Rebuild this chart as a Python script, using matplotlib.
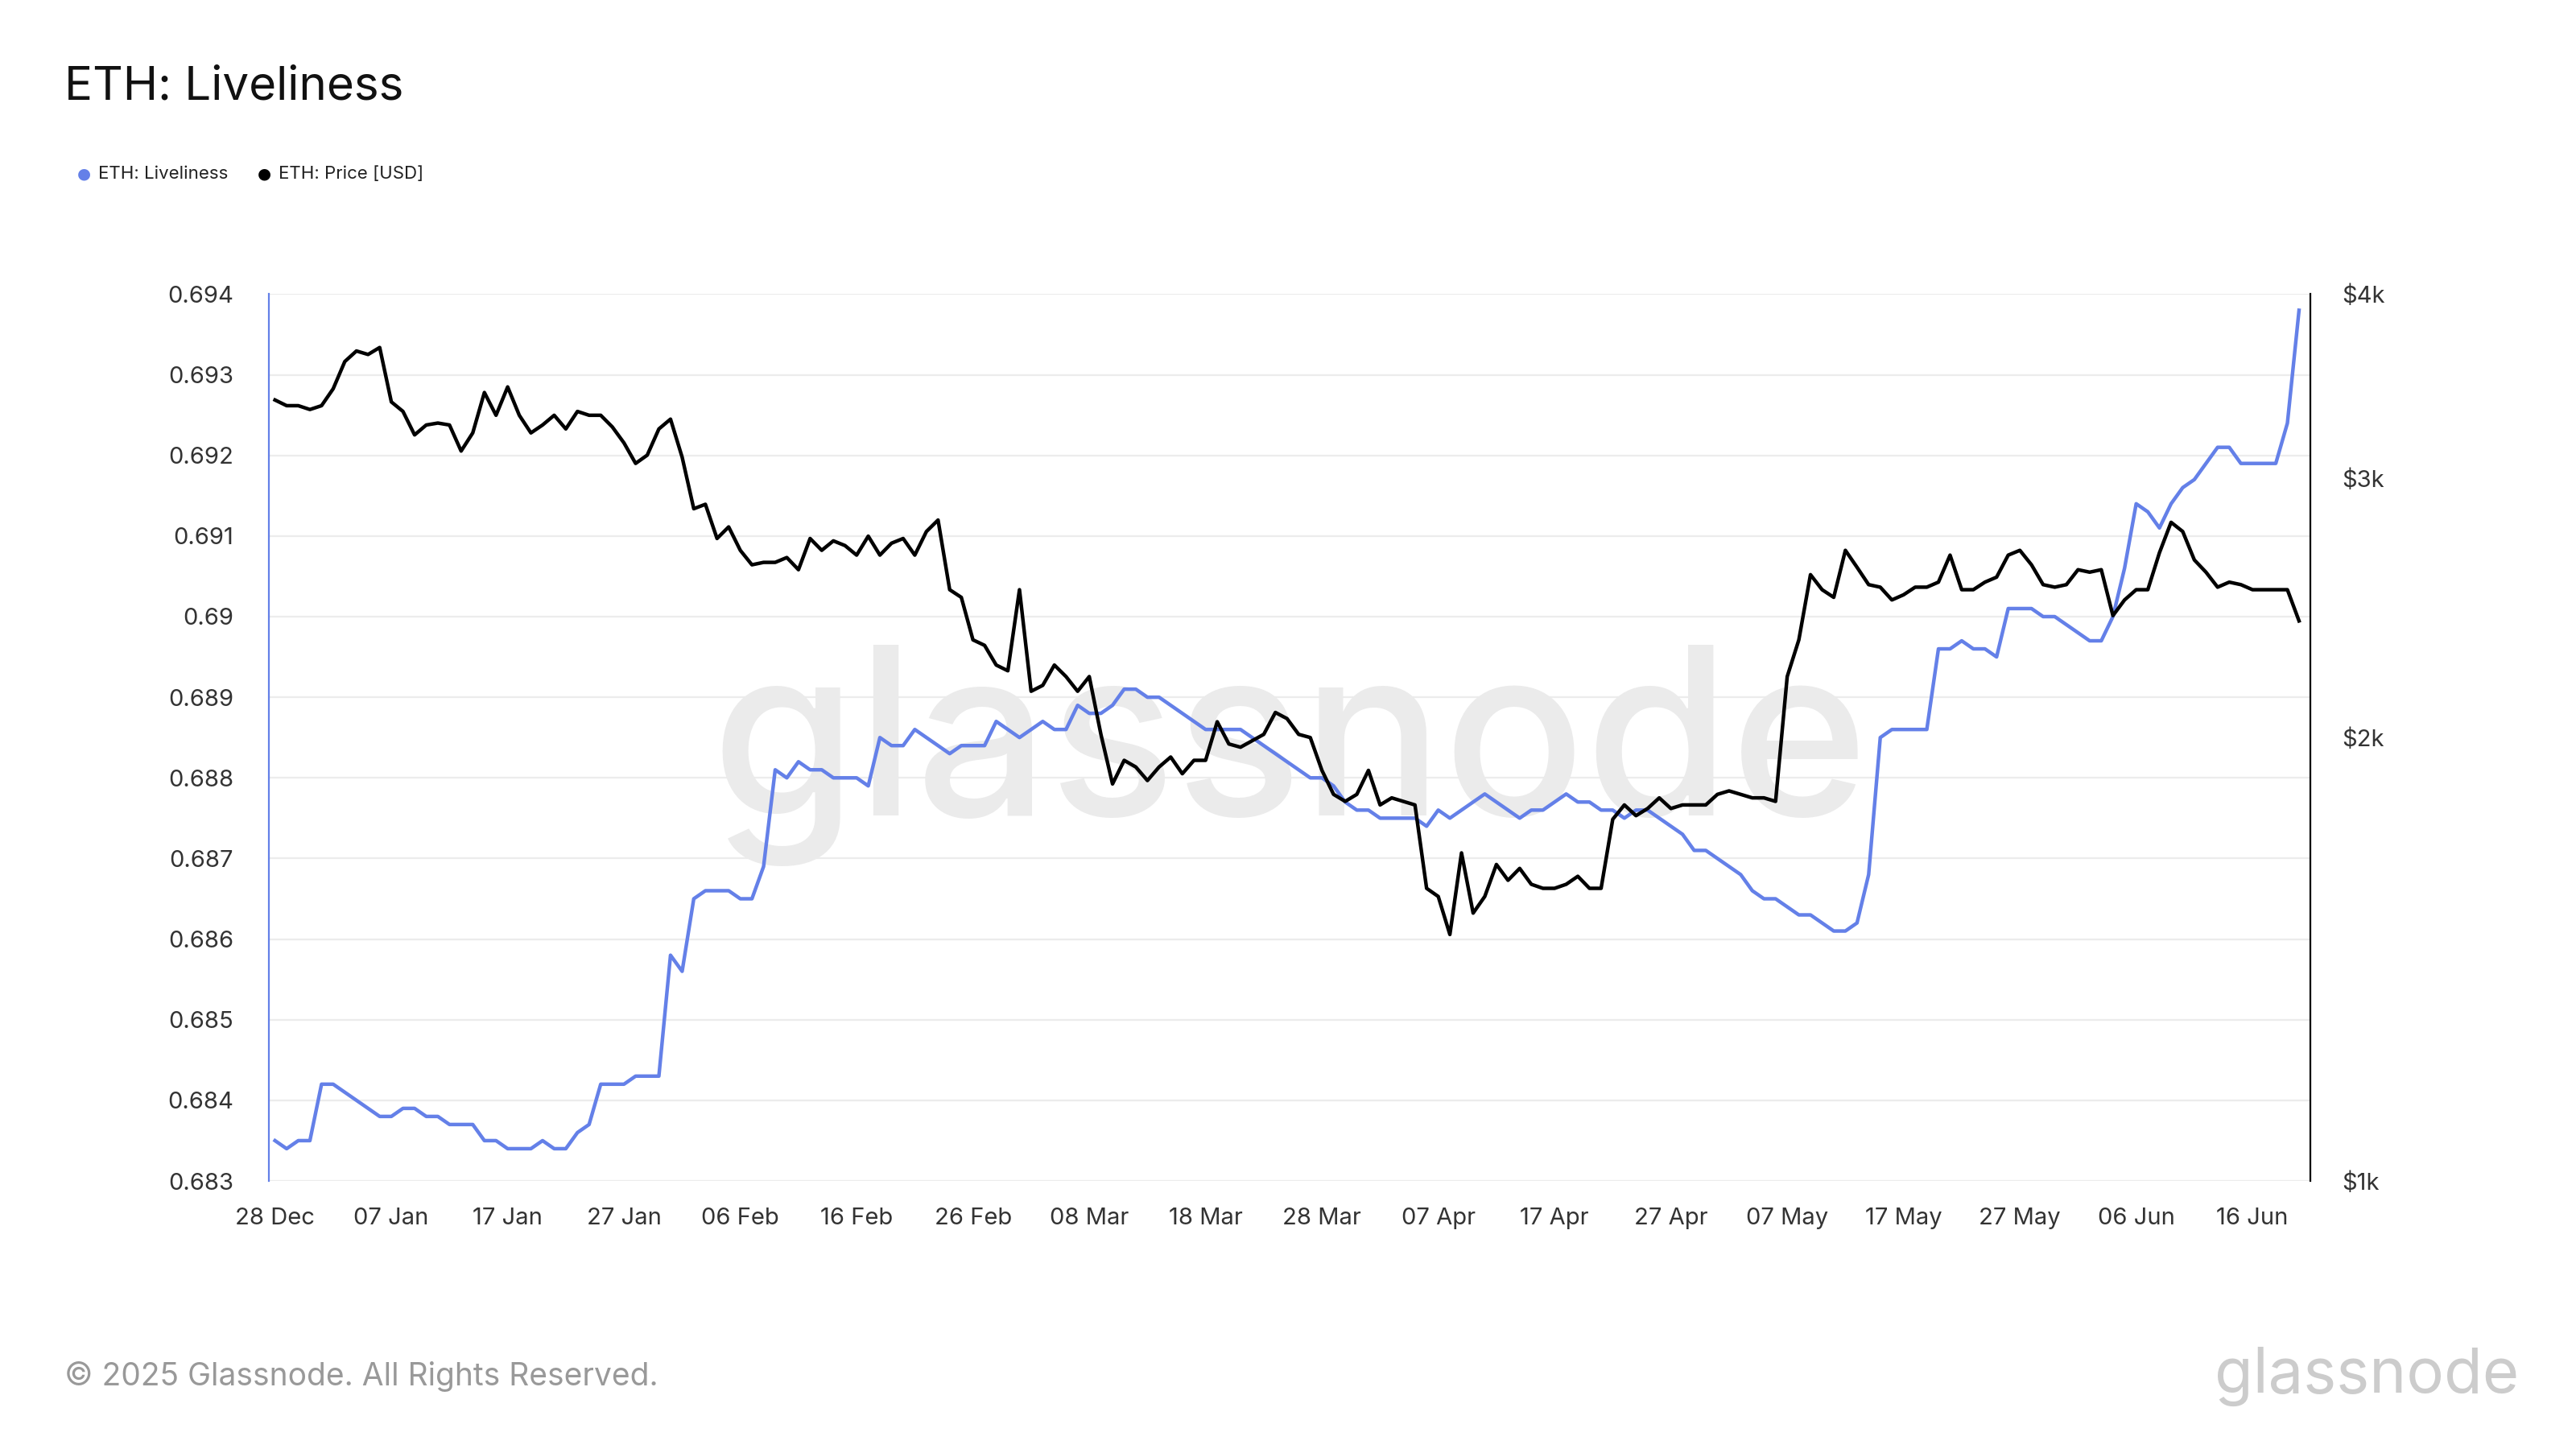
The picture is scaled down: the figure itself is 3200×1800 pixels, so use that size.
import matplotlib
matplotlib.use("Agg")
import matplotlib.pyplot as plt
import matplotlib.ticker as mticker
import matplotlib.dates as mdates
import pandas as pd

plt.rcParams["font.family"] = ["Inter", "DejaVu Sans"]

# ---- data (daily, starting 28 Dec 2024) ----
liveliness = [
    0.6835, 0.6834, 0.6835, 0.6835,                                    # Dec 28-31
    0.6842, 0.6842, 0.6841, 0.6840, 0.6839, 0.6838, 0.6838, 0.6839, 0.6839, 0.6838,
    0.6838, 0.6837, 0.6837, 0.6837, 0.6835, 0.6835, 0.6834, 0.6834, 0.6834, 0.6835,
    0.6834, 0.6834, 0.6836, 0.6837, 0.6842, 0.6842, 0.6842, 0.6843, 0.6843, 0.6843,
    0.6858,                                                            # Jan
    0.6856, 0.6865, 0.6866, 0.6866, 0.6866, 0.6865, 0.6865, 0.6869, 0.6881, 0.6880,
    0.6882, 0.6881, 0.6881, 0.6880, 0.6880, 0.6880, 0.6879, 0.6885, 0.6884, 0.6884,
    0.6886, 0.6885, 0.6884, 0.6883, 0.6884, 0.6884, 0.6884, 0.6887,    # Feb
    0.6886, 0.6885, 0.6886, 0.6887, 0.6886, 0.6886, 0.6889, 0.6888, 0.6888, 0.6889,
    0.6891, 0.6891, 0.6890, 0.6890, 0.6889, 0.6888, 0.6887, 0.6886, 0.6886, 0.6886,
    0.6886, 0.6885, 0.6884, 0.6883, 0.6882, 0.6881, 0.6880, 0.6880, 0.6879, 0.6877,
    0.6876,                                                            # Mar
    0.6876, 0.6875, 0.6875, 0.6875, 0.6875, 0.6874, 0.6876, 0.6875, 0.6876, 0.6877,
    0.6878, 0.6877, 0.6876, 0.6875, 0.6876, 0.6876, 0.6877, 0.6878, 0.6877, 0.6877,
    0.6876, 0.6876, 0.6875, 0.6876, 0.6876, 0.6875, 0.6874, 0.6873,
    0.6871, 0.6871,                                                    # Apr
    0.6870, 0.6869, 0.6868, 0.6866, 0.6865, 0.6865, 0.6864, 0.6863, 0.6863, 0.6862,
    0.6861, 0.6861, 0.6862, 0.6868, 0.6885, 0.6886, 0.6886, 0.6886, 0.6886, 0.6896,
    0.6896, 0.6897, 0.6896, 0.6896, 0.6895, 0.6901, 0.6901, 0.6901, 0.6900, 0.6900,
    0.6899,                                                            # May
    0.6898, 0.6897, 0.6897, 0.6900, 0.6906, 0.6914, 0.6913, 0.6911, 0.6914, 0.6916,
    0.6917, 0.6919, 0.6921, 0.6921, 0.6919, 0.6919, 0.6919, 0.6919, 0.6924, 0.6938,  # Jun 1-20
]

price = [
    3390, 3360, 3360, 3340,                                            # Dec 28-31
    3360, 3450, 3600, 3660, 3640, 3680, 3380, 3330, 3210, 3260,
    3270, 3260, 3130, 3220, 3430, 3310, 3460, 3310, 3220, 3260,
    3310, 3240, 3330, 3310, 3310, 3250, 3170, 3070, 3110, 3240,
    3290,                                                              # Jan
    3100, 2860, 2880, 2730, 2780, 2680, 2620, 2630, 2630, 2650,
    2600, 2730, 2680, 2720, 2700, 2660, 2740, 2660, 2710, 2730,
    2660, 2760, 2810, 2520, 2490, 2330, 2310, 2240,                    # Feb
    2220, 2520, 2150, 2170, 2240, 2200, 2150, 2200, 2010, 1860,
    1930, 1910, 1870, 1910, 1940, 1890, 1930, 1930, 2050, 1980,
    1970, 1990, 2010, 2080, 2060, 2010, 2000, 1900, 1830, 1810,
    1830,                                                              # Mar
    1900, 1800, 1820, 1810, 1800, 1580, 1560, 1470, 1670, 1520,
    1560, 1640, 1600, 1630, 1590, 1580, 1580, 1590, 1610, 1580,
    1580, 1760, 1800, 1770, 1790, 1820, 1790, 1800, 1800, 1800,        # Apr
    1830, 1840, 1830, 1820, 1820, 1810, 2200, 2330, 2580, 2520,
    2490, 2680, 2610, 2540, 2530, 2480, 2500, 2530, 2530, 2550,
    2660, 2520, 2520, 2550, 2570, 2660, 2680, 2620, 2540, 2530,
    2540,                                                              # May
    2600, 2590, 2600, 2420, 2480, 2520, 2520, 2670, 2800, 2760,
    2640, 2590, 2530, 2550, 2540, 2520, 2520, 2520, 2520, 2400,        # Jun 1-20
]

live_dates = pd.date_range("2024-12-28", periods=len(liveliness), freq="D")
price_dates = pd.date_range("2024-12-28", periods=len(price), freq="D")

BLUE = "#6480e8"

fig = plt.figure(figsize=(16, 9), dpi=200)
ax = fig.add_axes([0.1045, 0.185, 0.7925, 0.612])
ax2 = ax.twinx()

# watermark behind the lines
ax.text(0.5, 0.48, "glassnode", transform=ax.transAxes, fontsize=105,
        color="#ebebeb", ha="center", va="center", fontweight="medium", zorder=1)

ax.plot(live_dates, liveliness, color=BLUE, lw=1.6, zorder=3)
ax2.plot(price_dates, price, color="black", lw=1.6, zorder=4)

# left axis
ax.set_ylim(0.683, 0.694)
ax.yaxis.set_major_locator(mticker.MultipleLocator(0.001))
ax.yaxis.set_major_formatter(mticker.FuncFormatter(lambda v, _: f"{v:.3f}".rstrip("0")))
ax.grid(axis="y", color="#ececec", lw=0.8)
ax.set_axisbelow(True)

# right axis, log scale
ax2.set_yscale("log")
ax2.set_ylim(1000, 4000)
ax2.yaxis.set_major_locator(mticker.FixedLocator([1000, 2000, 3000, 4000]))
ax2.yaxis.set_minor_locator(mticker.NullLocator())
ax2.yaxis.set_major_formatter(mticker.FuncFormatter(lambda v, _: f"${v/1000:.0f}k"))

ax.set_xlim(pd.Timestamp("2024-12-27 12:00"), pd.Timestamp("2025-06-21"))
ticks = pd.date_range("2024-12-28", "2025-06-16", freq="10D")
ax.set_xticks(ticks)
ax.xaxis.set_major_formatter(mdates.DateFormatter("%d %b"))

for a in (ax, ax2):
    a.tick_params(length=0, labelsize=10.5, colors="#333333", pad=8)
    for s in ("top", "bottom"):
        a.spines[s].set_visible(False)
ax.spines["right"].set_visible(False)
ax.spines["left"].set_color(BLUE)
ax2.spines["left"].set_visible(False)
ax2.spines["right"].set_color("black")
ax2.tick_params(axis="y", pad=14)
ax.tick_params(axis="y", pad=16)
ax.tick_params(axis="x", pad=12)

fig.text(0.025, 0.94, "ETH: Liveliness", fontsize=21, va="center", color="#111111")
fig.text(0.03, 0.88, "●", fontsize=7, color=BLUE, va="center", family="DejaVu Sans")
fig.text(0.038, 0.88, "ETH: Liveliness", fontsize=8, va="center", color="#222222")
fig.text(0.1, 0.88, "●", fontsize=7, color="black", va="center", family="DejaVu Sans")
fig.text(0.108, 0.88, "ETH: Price [USD]", fontsize=8, va="center", color="#222222")

fig.text(0.025, 0.05, "© 2025 Glassnode. All Rights Reserved.", fontsize=14,
         color="#999999", va="center")
fig.text(0.978, 0.05, "glassnode", fontsize=28, color="#cccccc", ha="right",
         va="center")

fig.savefig("out.png", dpi=200)
